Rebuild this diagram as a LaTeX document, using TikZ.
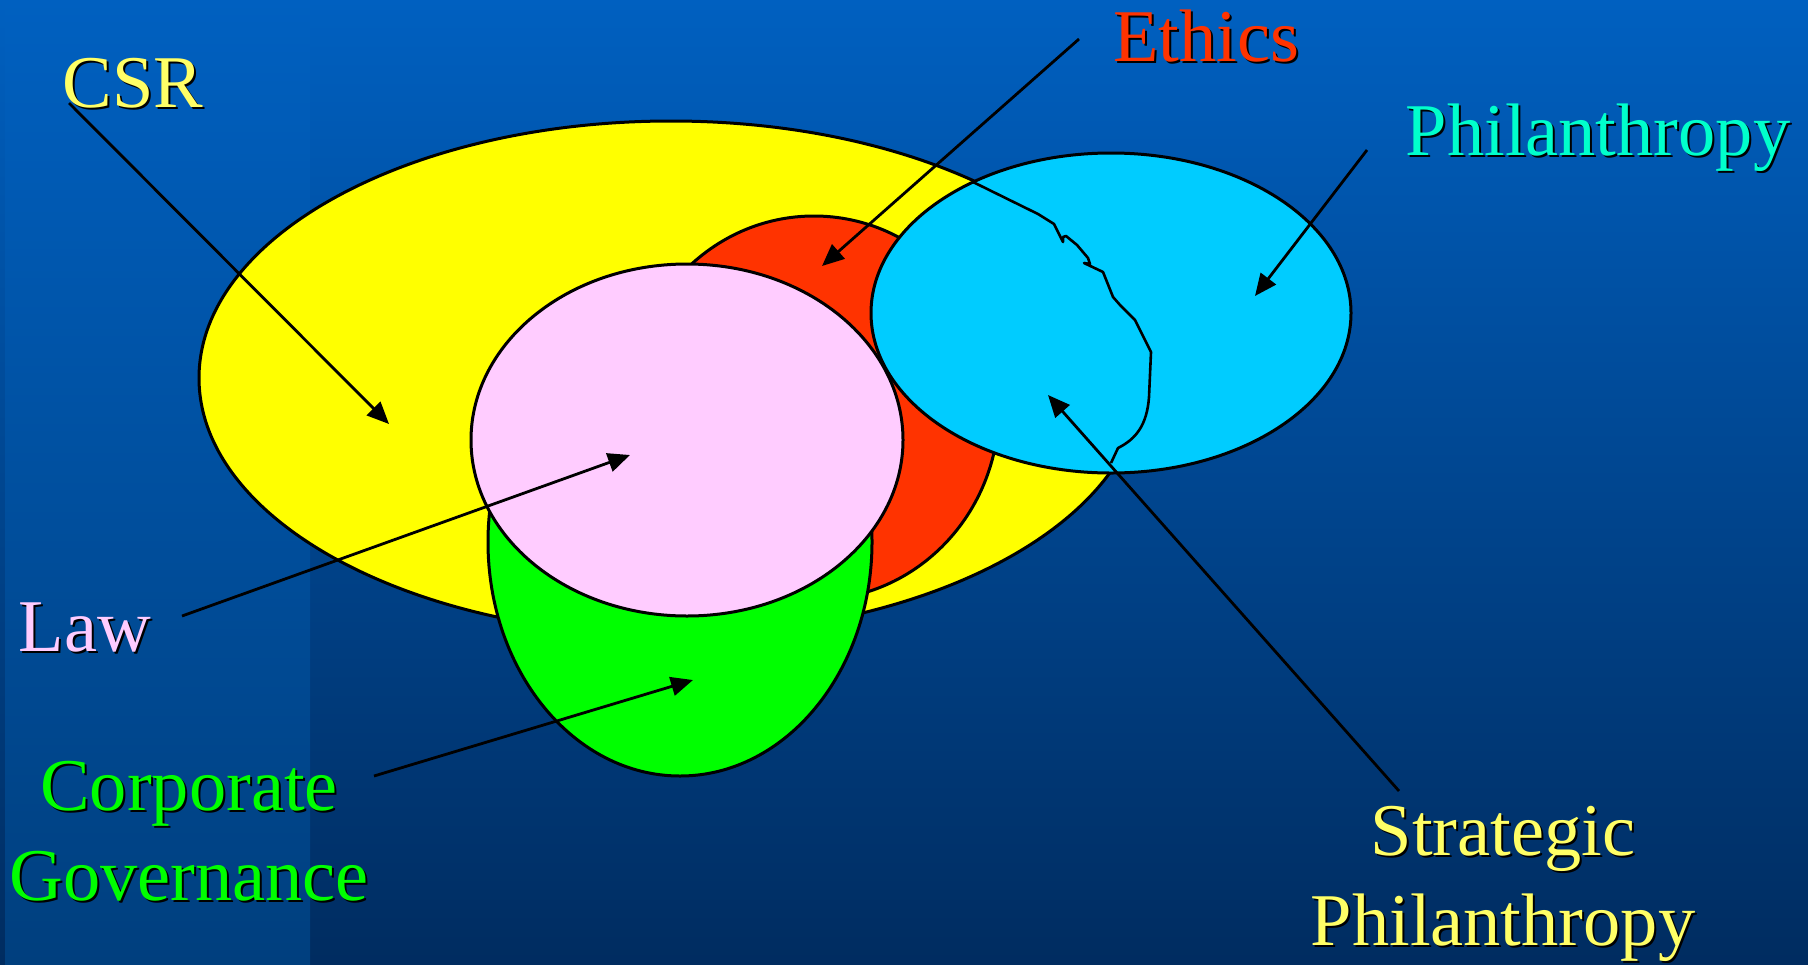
\documentclass[tikz,border=0pt]{standalone}
\usepackage{fontspec}
\setmainfont{Liberation Serif}
\usepackage{xcolor}
\usetikzlibrary{arrows.meta,shapes.geometric}

\definecolor{skytop}{HTML}{0060C0}
\definecolor{skybot}{HTML}{002C60}
\definecolor{bandbot}{HTML}{003F7E}
\definecolor{csryellow}{HTML}{FFFF00}
\definecolor{csrtext}{HTML}{FFFF66}
\definecolor{ethicsred}{HTML}{FF3300}
\definecolor{lawpink}{HTML}{FFCCFF}
\definecolor{govgreen}{HTML}{00FF00}
\definecolor{philblue}{HTML}{00CCFF}
\definecolor{philtext}{HTML}{00FFCC}

% text with its hard shadow: name, position, colour, text
\newcommand{\shadowlabel}[4]{
  \node[caption, text=black] (#1s) at ([shift={(2,2)}]#2) {#4};
  \node[caption, text=#3] (#1) at (#2) {#4};
}

\begin{document}
\begin{tikzpicture}[
  x=0.5pt, y=-0.5pt,
  >={Triangle[length=11pt,width=9.5pt]},
  region/.style={ellipse, draw=black, line width=1.5pt, inner sep=0pt},
  caption/.style={font=\fontsize{37.2}{45}\selectfont, align=center, inner sep=0pt, anchor=center},
  arrow/.style={->, line width=1.4pt, black}
]

\useasboundingbox (0,0) rectangle (1808,964);

% Background
\shade[top color=skytop, bottom color=skybot] (0,0) rectangle (1808,964);
\shade[top color=skytop, bottom color=bandbot] (5,0) rectangle (310,964);

% Regions
\node[region, fill=csryellow, minimum width=472pt, minimum height=257pt] (csr) at (671,378) {};
\node[region, fill=ethicsred, minimum width=185pt, minimum height=192pt] (ethics) at (814,408) {};
\node[region, fill=govgreen, minimum width=192pt, minimum height=234pt] (gov) at (680,542) {};
\node[region, fill=lawpink, minimum width=216pt, minimum height=176pt] (law) at (687,440) {};
\node[region, fill=philblue, minimum width=240pt, minimum height=160pt] (phil) at (1111,313) {};

% Rim of the strategic part
\draw[line width=1.3pt, black, line join=round] (973,182) -- (1038,214) -- (1054,224) -- (1063,242)
  -- (1063,237) -- (1066,236) -- (1077,245) -- (1088,258) -- (1090,264) -- (1084,263)
  -- (1103,272) -- (1113,297) -- (1120,305) -- (1135,320) -- (1151,352) -- (1149,397)
  .. controls (1147,425) and (1136,439) .. (1118,448) -- (1111,463);

% Labels
\shadowlabel{csrL}{133,83}{csrtext}{CSR}
\shadowlabel{ethicsL}{1206,36}{ethicsred}{Ethics}
\shadowlabel{philL}{1598,138}{philtext}{Philanthropy}
\shadowlabel{lawL}{85,627}{lawpink}{Law}
\shadowlabel{govL}{189,831}{govgreen}{Corporate\\Governance}
\shadowlabel{stratL}{1503,884}{csrtext}{Strategic\\Philanthropy}

% Arrow ends
\coordinate (csrT) at (69,103);
\coordinate (csrH) at (389,424);
\coordinate (ethicsT) at (1079,39);
\coordinate (ethicsH) at (822,266);
\coordinate (philT) at (1367,150);
\coordinate (philH) at (1255,296);
\coordinate (stratT) at (1399,791);
\coordinate (stratH) at (1048,395);
\coordinate (lawT) at (182,616);
\coordinate (lawH) at (630,455);
\coordinate (govT) at (374,776);
\coordinate (govH) at (693,680);

% Arrows
\draw[arrow] (csrT) -- (csrH);
\draw[arrow] (ethicsT) -- (ethicsH);
\draw[arrow] (philT) -- (philH);
\draw[arrow] (stratT) -- (stratH);
\draw[arrow] (lawT) -- (lawH);
\draw[arrow] (govT) -- (govH);

\end{tikzpicture}
\end{document}
